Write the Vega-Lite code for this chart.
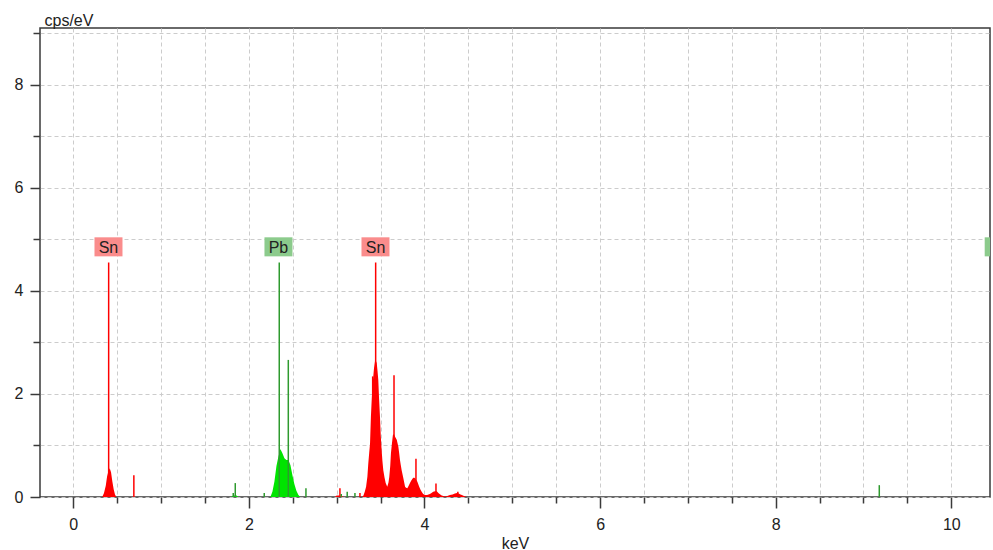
{
  "$schema": "https://vega.github.io/schema/vega-lite/v6.json",
  "width": 950,
  "height": 469,
  "autosize": {"type": "none"},
  "padding": {"left": 40, "top": 28, "right": 3, "bottom": 53},
  "background": "white",
  "config": {
    "view": {"stroke": "#3a3a3a", "strokeWidth": 1.5},
    "font": "Liberation Sans",
    "axis": {
      "domain": false,
      "gridColor": "#cccccc",
      "gridDash": [4, 3],
      "gridWidth": 1,
      "tickColor": "#3a3a3a",
      "tickWidth": 1.5,
      "labelFont": "Liberation Sans",
      "labelFontSize": 16,
      "labelColor": "#222222",
      "titleFont": "Liberation Sans",
      "titleFontSize": 16,
      "titleFontWeight": "normal",
      "titleColor": "#222222",
      "labelOverlap": false
    }
  },
  "datasets": {
    "body": [
      {"element": "Sn", "keV": 0.33, "cps": 0},
      {"element": "Sn", "keV": 0.35, "cps": 0.08},
      {"element": "Sn", "keV": 0.37, "cps": 0.22},
      {"element": "Sn", "keV": 0.385, "cps": 0.4},
      {"element": "Sn", "keV": 0.4, "cps": 0.5},
      {"element": "Sn", "keV": 0.415, "cps": 0.56},
      {"element": "Sn", "keV": 0.43, "cps": 0.48},
      {"element": "Sn", "keV": 0.445, "cps": 0.3},
      {"element": "Sn", "keV": 0.46, "cps": 0.15},
      {"element": "Sn", "keV": 0.475, "cps": 0.05},
      {"element": "Sn", "keV": 0.49, "cps": 0},
      {"element": "Sn", "keV": 2.98, "cps": 0},
      {"element": "Sn", "keV": 3.0, "cps": 0.03},
      {"element": "Sn", "keV": 3.03, "cps": 0.03},
      {"element": "Sn", "keV": 3.06, "cps": 0.02},
      {"element": "Sn", "keV": 3.08, "cps": 0},
      {"element": "Sn", "keV": 3.29, "cps": 0},
      {"element": "Sn", "keV": 3.305, "cps": 0.03},
      {"element": "Sn", "keV": 3.32, "cps": 0.1},
      {"element": "Sn", "keV": 3.335, "cps": 0.2},
      {"element": "Sn", "keV": 3.35, "cps": 0.4},
      {"element": "Sn", "keV": 3.36, "cps": 0.65},
      {"element": "Sn", "keV": 3.37, "cps": 0.85},
      {"element": "Sn", "keV": 3.38, "cps": 1.04},
      {"element": "Sn", "keV": 3.39, "cps": 1.56},
      {"element": "Sn", "keV": 3.4, "cps": 1.9},
      {"element": "Sn", "keV": 3.41, "cps": 2.2},
      {"element": "Sn", "keV": 3.425, "cps": 2.5},
      {"element": "Sn", "keV": 3.436, "cps": 2.63},
      {"element": "Sn", "keV": 3.445, "cps": 2.65},
      {"element": "Sn", "keV": 3.456, "cps": 2.6},
      {"element": "Sn", "keV": 3.465, "cps": 2.45},
      {"element": "Sn", "keV": 3.474, "cps": 2.27},
      {"element": "Sn", "keV": 3.483, "cps": 1.9},
      {"element": "Sn", "keV": 3.493, "cps": 1.56},
      {"element": "Sn", "keV": 3.502, "cps": 1.2},
      {"element": "Sn", "keV": 3.512, "cps": 0.91},
      {"element": "Sn", "keV": 3.521, "cps": 0.7},
      {"element": "Sn", "keV": 3.531, "cps": 0.52},
      {"element": "Sn", "keV": 3.545, "cps": 0.38},
      {"element": "Sn", "keV": 3.558, "cps": 0.27},
      {"element": "Sn", "keV": 3.576, "cps": 0.2},
      {"element": "Sn", "keV": 3.59, "cps": 0.28},
      {"element": "Sn", "keV": 3.599, "cps": 0.39},
      {"element": "Sn", "keV": 3.61, "cps": 0.6},
      {"element": "Sn", "keV": 3.618, "cps": 0.85},
      {"element": "Sn", "keV": 3.63, "cps": 1.05},
      {"element": "Sn", "keV": 3.64, "cps": 1.2},
      {"element": "Sn", "keV": 3.652, "cps": 1.22},
      {"element": "Sn", "keV": 3.665, "cps": 1.17},
      {"element": "Sn", "keV": 3.684, "cps": 1.11},
      {"element": "Sn", "keV": 3.702, "cps": 0.98},
      {"element": "Sn", "keV": 3.712, "cps": 0.85},
      {"element": "Sn", "keV": 3.721, "cps": 0.72},
      {"element": "Sn", "keV": 3.73, "cps": 0.62},
      {"element": "Sn", "keV": 3.74, "cps": 0.52},
      {"element": "Sn", "keV": 3.76, "cps": 0.36},
      {"element": "Sn", "keV": 3.779, "cps": 0.2},
      {"element": "Sn", "keV": 3.79, "cps": 0.18},
      {"element": "Sn", "keV": 3.805, "cps": 0.17},
      {"element": "Sn", "keV": 3.82, "cps": 0.22},
      {"element": "Sn", "keV": 3.835, "cps": 0.27},
      {"element": "Sn", "keV": 3.85, "cps": 0.32},
      {"element": "Sn", "keV": 3.865, "cps": 0.36},
      {"element": "Sn", "keV": 3.88, "cps": 0.38},
      {"element": "Sn", "keV": 3.895, "cps": 0.36},
      {"element": "Sn", "keV": 3.918, "cps": 0.3},
      {"element": "Sn", "keV": 3.94, "cps": 0.2},
      {"element": "Sn", "keV": 3.955, "cps": 0.14},
      {"element": "Sn", "keV": 3.968, "cps": 0.1},
      {"element": "Sn", "keV": 3.985, "cps": 0.06},
      {"element": "Sn", "keV": 4.005, "cps": 0.04},
      {"element": "Sn", "keV": 4.03, "cps": 0.04},
      {"element": "Sn", "keV": 4.062, "cps": 0.06},
      {"element": "Sn", "keV": 4.08, "cps": 0.08},
      {"element": "Sn", "keV": 4.1, "cps": 0.1},
      {"element": "Sn", "keV": 4.12, "cps": 0.11},
      {"element": "Sn", "keV": 4.14, "cps": 0.11},
      {"element": "Sn", "keV": 4.158, "cps": 0.08},
      {"element": "Sn", "keV": 4.18, "cps": 0.05},
      {"element": "Sn", "keV": 4.196, "cps": 0.03},
      {"element": "Sn", "keV": 4.234, "cps": 0.01},
      {"element": "Sn", "keV": 4.26, "cps": 0.02},
      {"element": "Sn", "keV": 4.29, "cps": 0.04},
      {"element": "Sn", "keV": 4.32, "cps": 0.05},
      {"element": "Sn", "keV": 4.347, "cps": 0.07},
      {"element": "Sn", "keV": 4.37, "cps": 0.08},
      {"element": "Sn", "keV": 4.39, "cps": 0.07},
      {"element": "Sn", "keV": 4.41, "cps": 0.05},
      {"element": "Sn", "keV": 4.426, "cps": 0.04},
      {"element": "Sn", "keV": 4.45, "cps": 0.02},
      {"element": "Sn", "keV": 4.48, "cps": 0},
      {"element": "Pb", "keV": 1.8, "cps": 0},
      {"element": "Pb", "keV": 1.82, "cps": 0.03},
      {"element": "Pb", "keV": 1.86, "cps": 0.03},
      {"element": "Pb", "keV": 1.88, "cps": 0},
      {"element": "Pb", "keV": 2.245, "cps": 0},
      {"element": "Pb", "keV": 2.268, "cps": 0.1},
      {"element": "Pb", "keV": 2.291, "cps": 0.3},
      {"element": "Pb", "keV": 2.314, "cps": 0.6},
      {"element": "Pb", "keV": 2.336, "cps": 0.78},
      {"element": "Pb", "keV": 2.359, "cps": 0.93},
      {"element": "Pb", "keV": 2.382, "cps": 0.85},
      {"element": "Pb", "keV": 2.405, "cps": 0.75},
      {"element": "Pb", "keV": 2.427, "cps": 0.72},
      {"element": "Pb", "keV": 2.45, "cps": 0.72},
      {"element": "Pb", "keV": 2.473, "cps": 0.62},
      {"element": "Pb", "keV": 2.496, "cps": 0.42},
      {"element": "Pb", "keV": 2.518, "cps": 0.25},
      {"element": "Pb", "keV": 2.541, "cps": 0.12},
      {"element": "Pb", "keV": 2.564, "cps": 0.04},
      {"element": "Pb", "keV": 2.587, "cps": 0}
    ],
    "spikes": [
      {"element": "Sn", "keV": 0.403, "cps": 4.55},
      {"element": "Sn", "keV": 0.69, "cps": 0.42},
      {"element": "Sn", "keV": 3.037, "cps": 0.17},
      {"element": "Sn", "keV": 3.265, "cps": 0.08},
      {"element": "Sn", "keV": 3.41, "cps": 2.34},
      {"element": "Sn", "keV": 3.444, "cps": 4.55},
      {"element": "Sn", "keV": 3.653, "cps": 2.36},
      {"element": "Sn", "keV": 3.903, "cps": 0.74},
      {"element": "Sn", "keV": 4.131, "cps": 0.26},
      {"element": "Sn", "keV": 4.38, "cps": 0.1},
      {"element": "Pb", "keV": 1.822, "cps": 0.08},
      {"element": "Pb", "keV": 1.845, "cps": 0.27},
      {"element": "Pb", "keV": 2.175, "cps": 0.08},
      {"element": "Pb", "keV": 2.346, "cps": 4.55},
      {"element": "Pb", "keV": 2.449, "cps": 2.66},
      {"element": "Pb", "keV": 2.65, "cps": 0.17},
      {"element": "Pb", "keV": 3.052, "cps": 0.06},
      {"element": "Pb", "keV": 3.12, "cps": 0.1},
      {"element": "Pb", "keV": 3.208, "cps": 0.08},
      {"element": "Pb", "keV": 9.18, "cps": 0.23}
    ],
    "labels": [
      {"element": "Sn", "keV": 0.401},
      {"element": "Pb", "keV": 2.337},
      {"element": "Sn", "keV": 3.442},
      {"element": "Pb", "keV": 10.54}
    ]
  },
  "layer": [
    {
      "data": {"name": "body"},
      "mark": {"type": "area", "interpolate": "linear", "clip": true},
      "encoding": {
        "x": {
          "field": "keV",
          "type": "quantitative",
          "scale": {"domain": [-0.379, 10.441], "nice": false, "zero": false},
          "axis": {
            "title": "keV",
            "format": "~g",
            "values": [0, 0.5, 1, 1.5, 2, 2.5, 3, 3.5, 4, 4.5, 5, 5.5, 6, 6.5, 7, 7.5, 8, 8.5, 9, 9.5, 10],
            "labelExpr": "datum.value % 2 === 0 ? datum.label : ''",
            "tickSize": {"condition": {"test": "datum.value % 2 === 0", "value": 11}, "value": 6},
            "labelPadding": 8,
            "titleY": 51,
            "titleBaseline": "alphabetic"
          }
        },
        "y": {
          "field": "cps",
          "type": "quantitative",
          "stack": null,
          "scale": {"domain": [0, 9.1], "nice": false},
          "axis": {
            "title": "cps/eV",
            "format": "~g",
            "values": [0, 0.5, 1, 1.5, 2, 2.5, 3, 3.5, 4, 4.5, 5, 5.5, 6, 6.5, 7, 7.5, 8, 8.5, 9],
            "labelExpr": "datum.value % 2 === 0 ? datum.label : ''",
            "tickSize": {"condition": {"test": "datum.value % 2 === 0", "value": 10}, "value": 7},
            "labelPadding": 7,
            "titleAngle": 0,
            "titleAlign": "left",
            "titleBaseline": "alphabetic",
            "titleX": 4,
            "titleY": -3
          }
        },
        "color": {
          "field": "element",
          "type": "nominal",
          "scale": {"domain": ["Sn", "Pb"], "range": ["#ff0000", "#00e400"]},
          "legend": null
        }
      }
    },
    {
      "data": {"name": "spikes"},
      "mark": {"type": "rule", "strokeWidth": 1.5, "clip": true},
      "encoding": {
        "x": {"field": "keV", "type": "quantitative"},
        "y": {"field": "cps", "type": "quantitative"},
        "y2": {"datum": 0},
        "color": {
          "field": "element",
          "type": "nominal",
          "scale": {"domain": ["Sn", "Pb"], "range": ["#ff0000", "#2e9a2e"]},
          "legend": null
        }
      }
    },
    {
      "data": {"name": "labels"},
      "mark": {"type": "point", "shape": "M-1,-0.68L1,-0.68L1,0.68L-1,0.68Z", "filled": true, "opacity": 1, "size": 784, "clip": true},
      "encoding": {
        "x": {"field": "keV", "type": "quantitative"},
        "y": {"datum": 4.854},
        "color": {
          "field": "element",
          "type": "nominal",
          "scale": {"domain": ["Sn", "Pb"], "range": ["#fa8c8c", "#8ccb8c"]},
          "legend": null
        }
      }
    },
    {
      "data": {"name": "labels"},
      "transform": [{"filter": "datum.keV < 10.3"}],
      "mark": {"type": "text", "font": "Liberation Sans", "fontSize": 16, "color": "#222222", "baseline": "middle", "align": "center", "clip": true, "dy": 1},
      "encoding": {
        "x": {"field": "keV", "type": "quantitative"},
        "y": {"datum": 4.854},
        "text": {"field": "element"}
      }
    }
  ],
  "resolve": {"scale": {"color": "independent"}}
}
